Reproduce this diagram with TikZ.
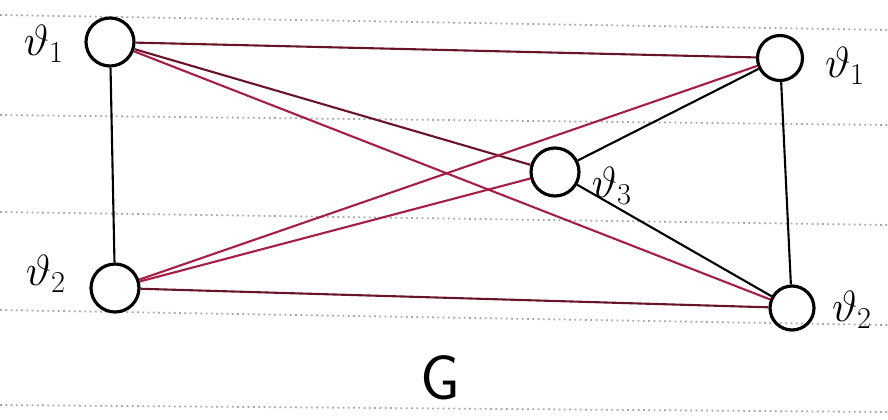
\documentclass[tikz,border=0pt]{standalone}
\definecolor{rojo}{RGB}{165,30,70}
\definecolor{rojoosc}{RGB}{105,20,40}
\begin{document}
\begin{tikzpicture}[x=0.02cm,y=-0.02cm,
  vertice/.style={circle,draw,line width=1.8pt,minimum size=0.96cm,inner sep=0pt},
  etiqueta/.style={font=\fontsize{24}{26}\selectfont},
  negra/.style={line width=1.2pt},
  roja/.style={line width=1.2pt,rojo},
  oscura/.style={line width=1.2pt,rojoosc}]

  \useasboundingbox (0,0) rectangle (888,419);

  % Renglones punteados del papel
  \foreach \ya/\yb in {15/30,115/125,212/225,310/325,405/412}{
    \draw[gray!70, dotted, line width=1pt] (0,\ya) -- (888,\yb);
  }

  % Vertices
  \node[vertice] (v1) at (110,42) {};
  \node[vertice] (v2) at (115,288) {};
  \node[vertice, minimum size=0.9cm] (w1) at (780,58) {};
  \node[vertice] (v3) at (555,172) {};
  \node[vertice, minimum size=0.88cm] (w2) at (792,308) {};

  % Etiquetas
  \node[etiqueta] (l1) at (44,44) {$\vartheta_1$};
  \node[etiqueta] (l2) at (46,274) {$\vartheta_2$};
  \node[etiqueta] (l3) at (845,66) {$\vartheta_1$};
  \node[etiqueta] (l4) at (612,186) {$\vartheta_3$};
  \node[etiqueta] (l5) at (852,310) {$\vartheta_2$};
  \node[font=\sffamily\fontsize{36}{40}\selectfont] (g) at (440,378) {G};

  % Aristas negras
  \draw[negra] (v1) -- (v2);
  \draw[negra] (w1) -- (v3);
  \draw[negra] (w1) -- (w2);
  \draw[negra] (v3) -- (w2);

  % Aristas rojas
  \draw[oscura] (v1) -- (w1);
  \draw[oscura] (v1) -- (v3);
  \draw[roja] (v1) -- (w2);
  \draw[roja] (v2) -- (w1);
  \draw[roja] (v2) -- (v3);
  \draw[oscura] (v2) -- (w2);

\end{tikzpicture}
\end{document}
